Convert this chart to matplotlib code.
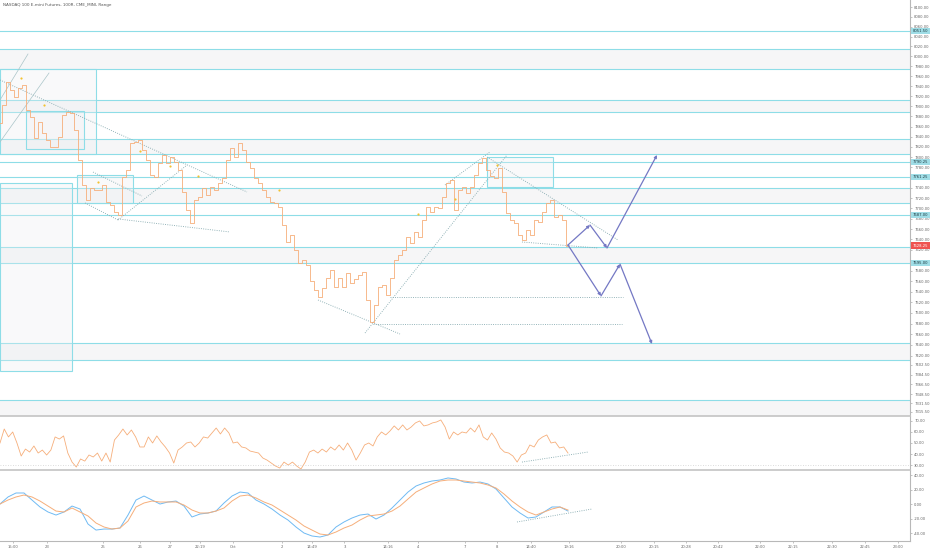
import numpy as np
import matplotlib
matplotlib.use('Agg')
import matplotlib.pyplot as plt
from matplotlib.patches import Rectangle
import matplotlib.transforms as mtransforms

title = "NASDAQ 100 E-mini Futures, 100R, CME_MINI, Range"

# range-bar closes (one per bar)
price = [7867, 7902, 7948, 7932, 7918, 7937, 7942, 7892, 7879, 7838, 7869, 7847, 7834, 7820, 7820,
         7840, 7883, 7889, 7887, 7853, 7794, 7745, 7716, 7740, 7736, 7736, 7745, 7712, 7706, 7693,
         7687, 7761, 7775, 7828, 7830, 7834, 7814, 7794, 7765, 7761, 7789, 7804, 7789, 7800, 7791,
         7775, 7732, 7696, 7671, 7716, 7722, 7740, 7726, 7742, 7736, 7749, 7759, 7794, 7818, 7800,
         7828, 7814, 7791, 7779, 7759, 7749, 7736, 7722, 7712, 7710, 7702, 7667, 7635, 7648, 7619,
         7594, 7600, 7591, 7561, 7544, 7530, 7548, 7567, 7581, 7549, 7567, 7549, 7575, 7557, 7565,
         7571, 7577, 7524, 7483, 7515, 7549, 7553, 7534, 7567, 7600, 7610, 7619, 7644, 7633, 7654,
         7644, 7677, 7702, 7693, 7702, 7700, 7722, 7749, 7755, 7696, 7736, 7742, 7730, 7742, 7765,
         7789, 7798, 7775, 7763, 7759, 7779, 7732, 7691, 7677, 7671, 7648, 7639, 7658, 7648, 7677,
         7673, 7693, 7710, 7716, 7683, 7687, 7677, 7628.25]

rsi = [50, 62.7, 55.5, 60, 50, 38.2, 44.5, 41.8, 47.3, 40.9, 43.6, 39.1, 43.6, 55.5, 53.6, 56.4,
       40.9, 32.7, 28.2, 35.5, 33.6, 39.1, 37.3, 40.9, 33.6, 40.9, 32.7, 52.7, 57.3, 62.7, 57.3,
       61.8, 55.5, 46.4, 46.4, 55.5, 50, 56.4, 50.9, 46.4, 40.9, 31.8, 43.6, 46.4, 50, 50.9, 46.4,
       50, 55.5, 54.5, 59.1, 63.6, 58.2, 63.6, 59.1, 50, 50.9, 46.4, 45.5, 42.7, 41.8, 40.9, 36.4,
       34.5, 31.8, 29.1, 27.3, 32.7, 30, 32.7, 29.1, 26.4, 32.7, 41.8, 43.6, 40.9, 44.5, 41.8, 46.4,
       43.6, 48.2, 43.6, 50, 43.6, 34.5, 40.9, 48.2, 50, 47.3, 55.5, 60, 57.3, 60.9, 65.5, 61.8,
       66.4, 61.8, 64.5, 68.2, 70, 65.5, 66.4, 68.2, 69.1, 70.9, 64.5, 53.6, 60, 57.3, 60, 59.1,
       63.6, 60, 66.4, 55.5, 52.7, 59.1, 53.6, 45.5, 41.8, 40.9, 38.2, 32.7, 39.1, 40.9, 48.2,
       46.4, 52.7, 55.5, 57.3, 50, 50.9, 45.5, 46.4, 40.9]

macd = [0, 9.7, 15.2, 15.2, 5.5, -4.1, -11.0, -15.2, -11.0, -2.8, -6.9, -27.6, -35.9, -34.5,
        -34.5, -33.1, -15.2, 5.5, 11.0, 5.5, 0, 2.8, 4.1, -2.8, -17.9, -13.8, -12.4, -9.7, 1.4,
        11.0, 16.5, 15.2, 5.5, 0, -6.9, -15.2, -22.1, -31.7, -40.0, -44.1, -45.5, -42.7, -31.7,
        -24.8, -19.3, -15.2, -13.8, -20.7, -15.2, -5.5, 5.5, 16.5, 24.8, 29.0, 31.7, 33.1, 35.9,
        34.5, 30.3, 29.0, 30.3, 27.6, 20.7, 8.3, -4.1, -12.4, -19.3, -17.9, -11.0, -4.1, -4.1, -9.7]

signal = [0, 5.5, 9.7, 12.4, 9.7, 4.1, -2.8, -9.7, -11.0, -5.5, -11.0, -16.5, -26.2, -31.7,
          -34.5, -33.1, -23.4, -4.1, 1.4, 4.1, 2.8, 2.8, 2.8, -1.4, -8.3, -12.4, -12.4, -9.7, -5.5,
          4.1, 11.0, 12.4, 8.3, 2.8, -1.4, -8.3, -15.2, -22.1, -30.3, -35.9, -41.4, -42.7, -38.6,
          -33.1, -29.0, -22.1, -16.5, -15.2, -13.8, -9.7, -2.8, 6.9, 16.5, 22.1, 27.6, 31.7, 33.1,
          33.1, 31.7, 30.3, 29.0, 26.2, 22.1, 13.8, 4.1, -4.1, -11.0, -15.2, -11.0, -6.9, -4.1, -8.3]

# horizontal support / resistance zones and single levels
zone_lo = [7974.6, 7888.8, 7806.0, 7710.4, 7595.0, 7411.7, 7290.0]
zone_hi = [8014.9, 7912.7, 7835.4, 7739.5, 7625.5, 7443.5, 7337.5]
single_levels = [8051.5, 7790.25, 7761.25, 7687.0]

# rectangles: (bar_start, bar_end, price_low, price_high)
boxes = [(0, 24, 7806.0, 7974.6), (6.5, 21, 7815.7, 7890.8), (19.25, 33.25, 7710.4, 7764.7),
         (0, 18, 7391.2, 7749.0), (121.75, 138.25, 7741.4, 7800.0)]

# dotted trend lines: (bar0, price0, bar1, price1)
trendlines = [(0, 7952.6, 61.75, 7731.7), (23.25, 7770.6, 35.5, 7723.9), (21.25, 7710.4, 29.5, 7677.4),
              (29.5, 7679.4, 57.5, 7654.3), (29.5, 7677.4, 46.75, 7784.3),
              (121.75, 7800.0, 154.5, 7638.8), (91.25, 7462.2, 126.75, 7804.0),
              (111.25, 7745.3, 122.5, 7809.9), (79.5, 7524.4, 100, 7460.3), (97.5, 7530.2, 155.75, 7530.2),
              (93.25, 7479.1, 155.5, 7479.1), (130.5, 7635.0, 149.5, 7623.5)]
# thin solid channel lines (top left)
channel_lines = [(0, 7912.7, 7, 8004.8), (0, 7829.5, 12.25, 7966.6)]

# projected paths
up_x = [142, 147.5, 151.75, 164.25]
up_p = [7629.3, 7667.7, 7623.5, 7804.0]
dn_x = [142, 150.25, 155, 163]
dn_p = [7629.3, 7532.1, 7592.7, 7441.6]

marker_x = [5.25, 11, 24.5, 35, 42.5, 49.5, 69.75, 104.5, 113.75, 124.25]
marker_p = [7956.6, 7902.8, 7751.1, 7811.8, 7782.4, 7762.8, 7735.5, 7688.8, 7718.1, 7784.3]

price_ticks = [v for v in range(8100, 7419, -20) if v not in (7760, 7600)] + \
              [7402.5, 7384.5, 7366.5, 7348.5, 7331.5, 7315.5]
hl_levels = [8051.5, 7790.25, 7761.25, 7687.0, 7595.0]
last_price = 7628.25

rsi_ticks = [70, 60, 50, 40, 30]
macd_ticks = [40, 20, 0, -20, -40]
rsi_trend = (130.5, 32.7, 147, 41.8)
macd_trend = (129.25, -24.8, 148, -6.9)

time_pos = [3.2, 11.7, 25.7, 35, 42.5, 50, 58.3, 70.4, 77.9, 86.1, 97.1, 104.6, 116.25, 124.3,
            132.7, 142.3, 155.2, 163.5, 171.5, 179.6, 190, 198.3, 207.9, 216.25, 224.6]
time_labels = ["15:00", "23", "25", "26", "27", "22:19", "Oct", "2", "14:49", "3", "14:16", "4",
               "7", "8", "14:40", "19:16", "20:00", "20:15", "20:28", "20:42", "22:00", "22:15",
               "22:30", "22:45", "23:00"]

CYAN = '#8edde7'
ORANGE = '#f6ae7a'
BLUE = '#6fbaf3'
TREND = '#86aab0'
PATH = '#7478c4'
FS = 2.7
W, H = 932, 550

fig = plt.figure(figsize=(W / 100, H / 100), dpi=100)
right = 910 / W
ax = fig.add_axes([0, 1 - 416 / H, right, 416 / H])
ax_r = fig.add_axes([0, 1 - 470 / H, right, 54 / H], sharex=ax)
ax_m = fig.add_axes([0, 1 - 541 / H, right, 71 / H], sharex=ax)

x = np.arange(len(price))

# --- main panel
ax.set_yscale('log')
ax.set_xlim(0, 227.5)
ax.set_ylim(7308.0, 8114.3)
for lo, hi in zip(zone_lo, zone_hi):
    ax.axhspan(lo, hi, color='#f6f6f7', zorder=0, lw=0)
    ax.axhline(lo, color=CYAN, lw=0.8, zorder=1)
    ax.axhline(hi, color=CYAN, lw=0.8, zorder=1)
for lv in single_levels:
    ax.axhline(lv, color=CYAN, lw=0.8, zorder=1)
for (b0, b1, plo, phi) in boxes:
    ax.add_patch(Rectangle((b0, plo), b1 - b0, phi - plo, facecolor='#eceef1', alpha=0.3,
                           edgecolor='none', zorder=1))
    ax.add_patch(Rectangle((b0, plo), b1 - b0, phi - plo, facecolor='none',
                           edgecolor=CYAN, lw=0.8, zorder=2))
for (b0, p0, b1, p1) in trendlines:
    ax.plot([b0, b1], [p0, p1], color=TREND, lw=0.65, ls=(0, (1, 1.5)), zorder=3)
for (b0, p0, b1, p1) in channel_lines:
    ax.plot([b0, b1], [p0, p1], color='#a9c4c8', lw=0.5, zorder=3)

ax.step(x, price, where='mid', color=ORANGE, lw=0.6, zorder=4)
ax.scatter(marker_x, marker_p, s=2.5, color='#f2c230', zorder=5, linewidths=0)

for px_, pp_ in ((up_x, up_p), (dn_x, dn_p)):
    for i in range(len(px_) - 1):
        ax.annotate('', xy=(px_[i + 1], pp_[i + 1]), xytext=(px_[i], pp_[i]),
                    arrowprops=dict(arrowstyle='-|>', color=PATH, lw=0.9, mutation_scale=4,
                                    shrinkA=0, shrinkB=0), zorder=6)

ax.yaxis.tick_right()
ax.minorticks_off()
ax.set_yticks(price_ticks, ['%.2f' % v for v in price_ticks])
ax.minorticks_off()
ax.tick_params(axis='y', labelsize=FS, length=1.5, width=0.5, color='#aaaaaa',
               labelcolor='#666666', pad=1.5)
ax.tick_params(axis='x', bottom=False, labelbottom=False)
for s in ('top', 'left', 'bottom'):
    ax.spines[s].set_visible(False)
ax.spines['right'].set_color('#b8b8b8')
ax.spines['right'].set_linewidth(0.8)

trans = mtransforms.blended_transform_factory(ax.transAxes, ax.transData)
for lv in hl_levels:
    ax.text(1.003, lv, '%.2f' % lv, transform=trans, ha='left', va='center', fontsize=FS,
            color='#1e3a40', bbox=dict(boxstyle='square,pad=0.35', fc='#9fdde6', ec='none'),
            zorder=10, clip_on=False)
ax.text(1.003, last_price, '%.2f' % last_price, transform=trans, ha='left', va='center',
        fontsize=FS, color='white', bbox=dict(boxstyle='square,pad=0.35', fc='#ef5350', ec='none'),
        zorder=10, clip_on=False)

fig.text(3 / W, 1 - 5 / H, title, fontsize=3.0, color='#555555', ha='left', va='center')

# --- RSI panel
xr = np.linspace(0, len(price) - 1, len(rsi))
ax_r.plot(xr, rsi, color=ORANGE, lw=0.6)
ax_r.axhline(30, color='#d0d0d0', lw=0.6, ls=(0, (1, 2)))
ax_r.plot([rsi_trend[0], rsi_trend[2]], [rsi_trend[1], rsi_trend[3]], color=TREND, lw=0.65,
          ls=(0, (1, 1.5)))
ax_r.set_ylim(25.5, 74.5)
ax_r.yaxis.tick_right()
ax_r.set_yticks(rsi_ticks, ['%.2f' % v for v in rsi_ticks])

# --- MACD panel
xm = np.linspace(0, len(price) - 1, len(macd))
ax_m.plot(xm, macd, color=BLUE, lw=0.7)
ax_m.plot(xm, signal, color=ORANGE, lw=0.7)
ax_m.plot([macd_trend[0], macd_trend[2]], [macd_trend[1], macd_trend[3]], color=TREND, lw=0.65,
          ls=(0, (1, 1.5)))
ax_m.set_ylim(-51.0, 46.9)
ax_m.yaxis.tick_right()
ax_m.set_yticks(macd_ticks, ['%.2f' % v for v in macd_ticks])

for a in (ax_r, ax_m):
    a.tick_params(axis='y', labelsize=FS, length=1.5, width=0.5, color='#aaaaaa',
                  labelcolor='#666666', pad=1.5)
    a.spines['left'].set_visible(False)
    a.spines['top'].set_color('#c4c4c4')
    a.spines['top'].set_linewidth(1.2)
    a.spines['right'].set_color('#b8b8b8')
    a.spines['right'].set_linewidth(0.8)
ax_r.spines['bottom'].set_visible(False)
ax_r.tick_params(axis='x', bottom=False, labelbottom=False)
ax_m.spines['bottom'].set_color('#b8b8b8')
ax_m.spines['bottom'].set_linewidth(0.8)
ax_m.set_xticks(time_pos, time_labels)
ax_m.tick_params(axis='x', labelsize=FS, length=1.5, width=0.5, color='#aaaaaa',
                 labelcolor='#666666', pad=1.5)
ax_m.set_xlim(0, 227.5)

fig.savefig('out.png', dpi=100, facecolor='white')
